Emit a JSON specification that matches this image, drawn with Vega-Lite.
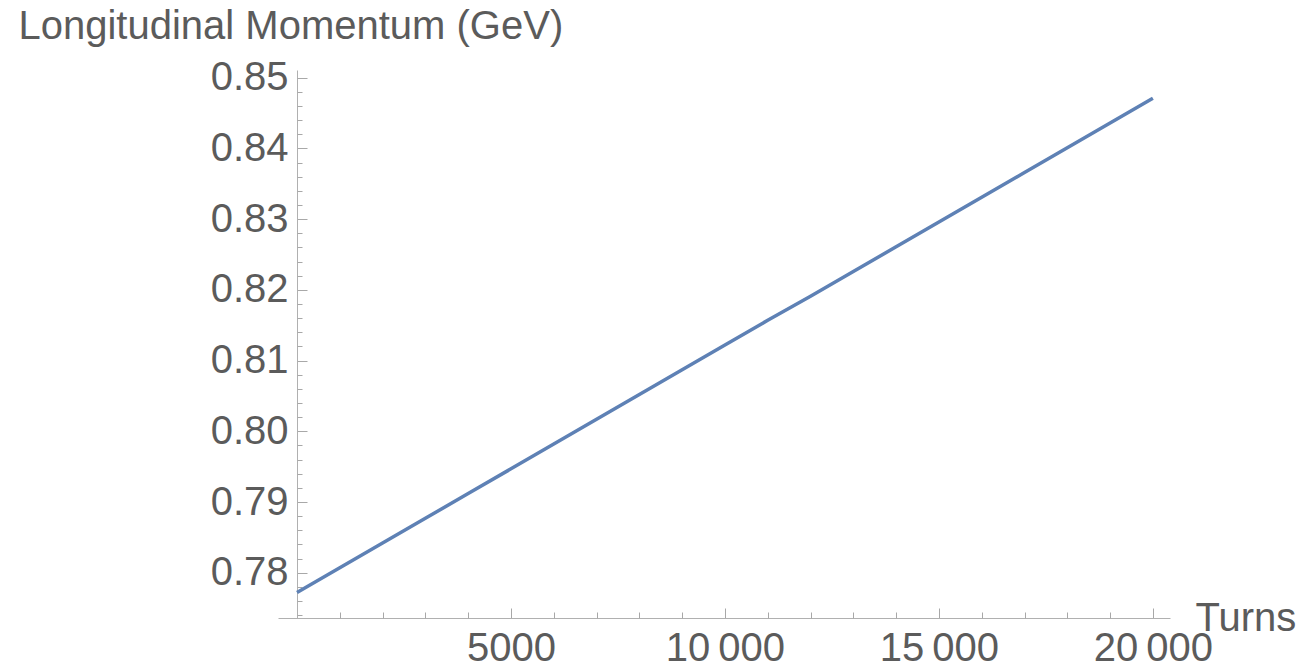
{
  "$schema": "https://vega.github.io/schema/vega-lite/v6.json",
  "autosize": {"type": "none"},
  "width": 892,
  "height": 548,
  "padding": {"left": 278, "top": 70, "right": 131, "bottom": 54},
  "background": "white",
  "config": {
    "view": {"stroke": null},
    "axis": {"grid": false, "labelFont": "Liberation Sans", "titleFont": "Liberation Sans", "labelColor": "#5b5b5b", "titleColor": "#5b5b5b", "domainColor": "#b0b0b0", "tickColor": "#a8a8a8", "labelFlush": false, "labelOverlap": false}
  },
  "data": {"values": [
    {"turns": 0, "p": 0.7772},
    {"turns": 1000, "p": 0.7807},
    {"turns": 2000, "p": 0.7842},
    {"turns": 3000, "p": 0.7877},
    {"turns": 4000, "p": 0.7912},
    {"turns": 5000, "p": 0.7947},
    {"turns": 6000, "p": 0.7982},
    {"turns": 7000, "p": 0.8017},
    {"turns": 8000, "p": 0.8052},
    {"turns": 9000, "p": 0.8087},
    {"turns": 10000, "p": 0.8122},
    {"turns": 11000, "p": 0.8157},
    {"turns": 12000, "p": 0.8191},
    {"turns": 13000, "p": 0.8226},
    {"turns": 14000, "p": 0.8261},
    {"turns": 15000, "p": 0.8296},
    {"turns": 16000, "p": 0.8331},
    {"turns": 17000, "p": 0.8366},
    {"turns": 18000, "p": 0.8401},
    {"turns": 19000, "p": 0.8436},
    {"turns": 20000, "p": 0.8471}
  ]},
  "resolve": {"axis": {"x": "independent", "y": "independent"}},
  "layer": [
    {
      "mark": {"type": "line", "color": "#5E81B5", "strokeWidth": 3.5},
      "encoding": {
        "x": {"field": "turns", "type": "quantitative",
          "scale": {"domain": [-444, 20400], "nice": false, "zero": false},
          "axis": {"orient": "bottom", "values": [5000, 10000, 15000, 20000],
            "labelExpr": "datum.value >= 10000 ? replace(format(datum.value, ','), ',', '\u2009') : format(datum.value, 'd')",
            "tickSize": -10, "labelPadding": 20, "labelFontSize": 40,
            "title": "Turns", "titleFontSize": 40, "titleFontWeight": "normal",
            "titleX": 917, "titleY": 12, "titleAlign": "left", "titleBaseline": "alphabetic"}},
        "y": {"field": "p", "type": "quantitative",
          "scale": {"domain": [0.7736, 0.8511], "nice": false, "zero": false},
          "axis": {"orient": "left", "offset": -19, "values": [0.78, 0.79, 0.80, 0.81, 0.82, 0.83, 0.84, 0.85],
            "format": ".2f", "tickSize": -10, "labelPadding": 19, "labelFontSize": 40,
            "title": "Longitudinal Momentum (GeV)", "titleFontSize": 40, "titleFontWeight": "normal",
            "titleAngle": 0, "titleX": -279, "titleY": -32, "titleAlign": "left", "titleBaseline": "alphabetic"}}
      }
    },
    {
      "mark": {"type": "line", "opacity": 0},
      "encoding": {
        "x": {"field": "turns", "type": "quantitative",
          "axis": {"orient": "bottom", "values": [1000, 2000, 3000, 4000, 6000, 7000, 8000, 9000, 11000, 12000, 13000, 14000, 16000, 17000, 18000, 19000],
            "tickSize": -6, "labels": false, "domain": false, "title": null}},
        "y": {"field": "p", "type": "quantitative",
          "axis": {"orient": "left", "offset": -19, "values": [0.774, 0.776, 0.778, 0.782, 0.784, 0.786, 0.788, 0.792, 0.794, 0.796, 0.798, 0.802, 0.804, 0.806, 0.808, 0.812, 0.814, 0.816, 0.818, 0.822, 0.824, 0.826, 0.828, 0.832, 0.834, 0.836, 0.838, 0.842, 0.844, 0.846, 0.848, 0.850],
            "tickSize": -5, "labels": false, "domain": false, "title": null}}
      }
    }
  ]
}
